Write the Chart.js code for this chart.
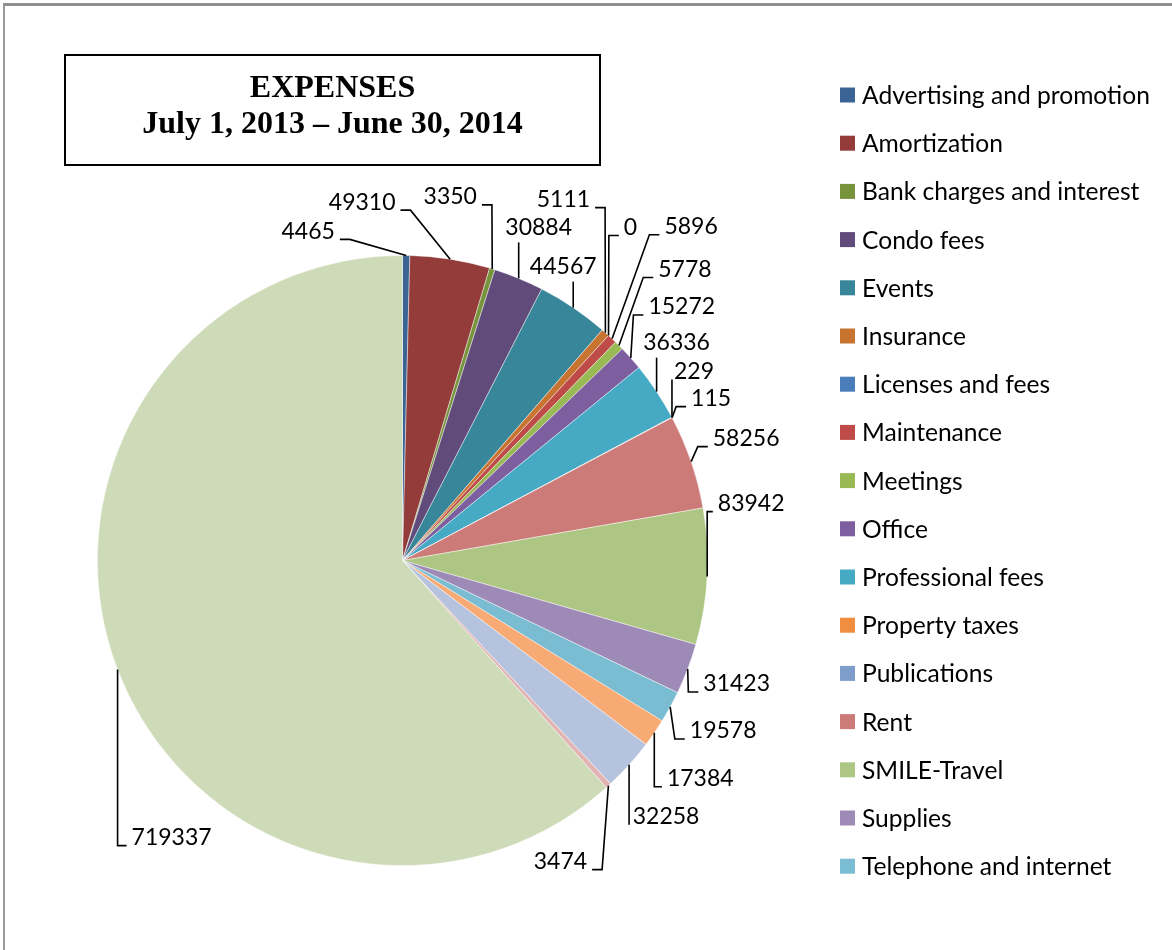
<!DOCTYPE html>
<html>
<head>
<meta charset="utf-8">
<script src="https://cdn.jsdelivr.net/npm/chart.js@4.4.1/dist/chart.umd.min.js"></script>
<style>
  html, body { margin: 0; padding: 0; background: #fff; }
  #wrap { position: relative; width: 1172px; height: 950px; overflow: hidden; }
  #frame { position: absolute; left: 3px; top: 3px; width: 1169px; height: 947px;
           border-top: 3px solid #8f8f8f; border-left: 2px solid #9a9a9a; box-sizing: border-box; }
  #titlebox { position: absolute; left: 64px; top: 54px; width: 537px; height: 112px;
              border: 2px solid #000; box-sizing: border-box; text-align: center;
              font-family: "Liberation Serif", "Times New Roman", serif; font-weight: bold;
              font-size: 32px; line-height: 36px; padding-top: 12px; color: #000; }
  canvas { position: absolute; left: 0; top: 0; }
</style>
</head>
<body>
<div id="wrap">
  <div id="frame"></div>
  <canvas id="c" width="1172" height="950"></canvas>
  <div id="titlebox">EXPENSES<br>July 1, 2013 – June 30, 2014</div>
</div>
<script>
// ---- data ----
const categories = [
  "Advertising and promotion", "Amortization", "Bank charges and interest", "Condo fees",
  "Events", "Insurance", "Licenses and fees", "Maintenance", "Meetings", "Office",
  "Professional fees", "Property taxes", "Publications", "Rent", "SMILE-Travel",
  "Supplies", "Telephone and internet", "Translation", "Travel", "Utilities", "Wages and benefits"
];
const values = [4465, 49310, 3350, 30884, 44567, 5111, 0, 5896, 5778, 15272, 36336,
                229, 115, 58256, 83942, 31423, 19578, 17384, 32258, 3474, 719337];
const legendShown = 17; // entries visible in the original legend

// ---- styles ----
const sliceColors = [
  "#3B6495", "#943C3A", "#77933C", "#604B7B", "#37869A", "#C6742F",
  "#4A7EBB", "#BE4B48", "#98B954", "#7D5FA0", "#46AAC4", "#F08D3E",
  "#7E9DCA", "#CD7B79", "#AEC683", "#9E8AB6", "#7ABCD1", "#F8AA74",
  "#B5C3DE", "#E2B4B3", "#CEDBB8"
];
// label text centre, relative to the slice's outer-edge midpoint (px)
const labelOffsets = [
  [-98,-24], [-88,-57], [-42,-72], [20,-51], [-10,-41], [-42,-133], [22,-108],
  [79,-112], [66,-76], [51,-51], [20,-49], [22,-46], [39,-19], [55,-23],
  [44,-73], [49,15], [53,24], [46,46], [37,52], [-48,76], [54,168]
];
const FONT = "Lato, 'Open Sans', sans-serif";
const labelFontSize = 23;
const legendFontSize = 24.6;

const labelPlugin = {
  id: 'leaderLabels',
  afterDatasetsDraw(chart) {
    const ctx = chart.ctx;
    const meta = chart.getDatasetMeta(0);
    ctx.save();
    ctx.font = labelFontSize + 'px ' + FONT;
    ctx.textAlign = 'center';
    ctx.textBaseline = 'middle';
    ctx.strokeStyle = '#000';
    ctx.lineWidth = 1.6;
    meta.data.forEach((arc, i) => {
      const p = arc.getProps(['x', 'y', 'startAngle', 'endAngle', 'outerRadius'], true);
      const mid = (p.startAngle + p.endAngle) / 2;
      const px = p.x + Math.cos(mid) * p.outerRadius;
      const py = p.y + Math.sin(mid) * p.outerRadius;
      const off = labelOffsets[i];
      const cx = px + off[0], cy = py + off[1];
      const txt = String(values[i]);
      const w = ctx.measureText(txt).width;
      const x0 = cx - w / 2, x1 = cx + w / 2;
      const ya = cy + 8;
      ctx.beginPath();
      ctx.moveTo(px, py);
      if (px < x0) {
        const bx = x0 - 5;
        const ex = Math.max(px, bx - 10);
        ctx.lineTo(ex, ya);
        if (bx > ex) ctx.lineTo(bx, ya);
      } else if (px > x1) {
        const bx = x1 + 5;
        const ex = Math.min(px, bx + 10);
        ctx.lineTo(ex, ya);
        if (bx < ex) ctx.lineTo(bx, ya);
      } else {
        const yb = py > cy ? cy + 15 : cy - 15;
        ctx.lineTo(px, yb);
      }
      ctx.stroke();
      ctx.fillStyle = '#000';
      ctx.fillText(txt, cx, cy);
    });
    ctx.restore();
  }
};

const legendPlugin = {
  id: 'sideLegend',
  afterDraw(chart) {
    const ctx = chart.ctx;
    ctx.save();
    ctx.font = legendFontSize + 'px ' + FONT;
    ctx.textAlign = 'left';
    ctx.textBaseline = 'middle';
    for (let i = 0; i < legendShown; i++) {
      const y = 95 + i * 48.2;
      ctx.fillStyle = sliceColors[i];
      ctx.fillRect(840, y - 7.5, 15, 15);
      ctx.fillStyle = '#000';
      ctx.fillText(categories[i], 862, y + 1);
    }
    ctx.restore();
  }
};

new Chart(document.getElementById('c'), {
  type: 'pie',
  data: {
    labels: categories,
    datasets: [{
      data: values,
      backgroundColor: sliceColors,
      borderColor: 'rgba(255,255,255,0.55)',
      borderWidth: 0.8
    }]
  },
  options: {
    responsive: false,
    animation: false,
    devicePixelRatio: 1,
    layout: { padding: { left: 97, top: 255, right: 464, bottom: 84 } },
    plugins: {
      legend: { display: false },
      title: { display: false },
      tooltip: { enabled: false }
    }
  },
  plugins: [labelPlugin, legendPlugin]
});
</script>
</body>
</html>
